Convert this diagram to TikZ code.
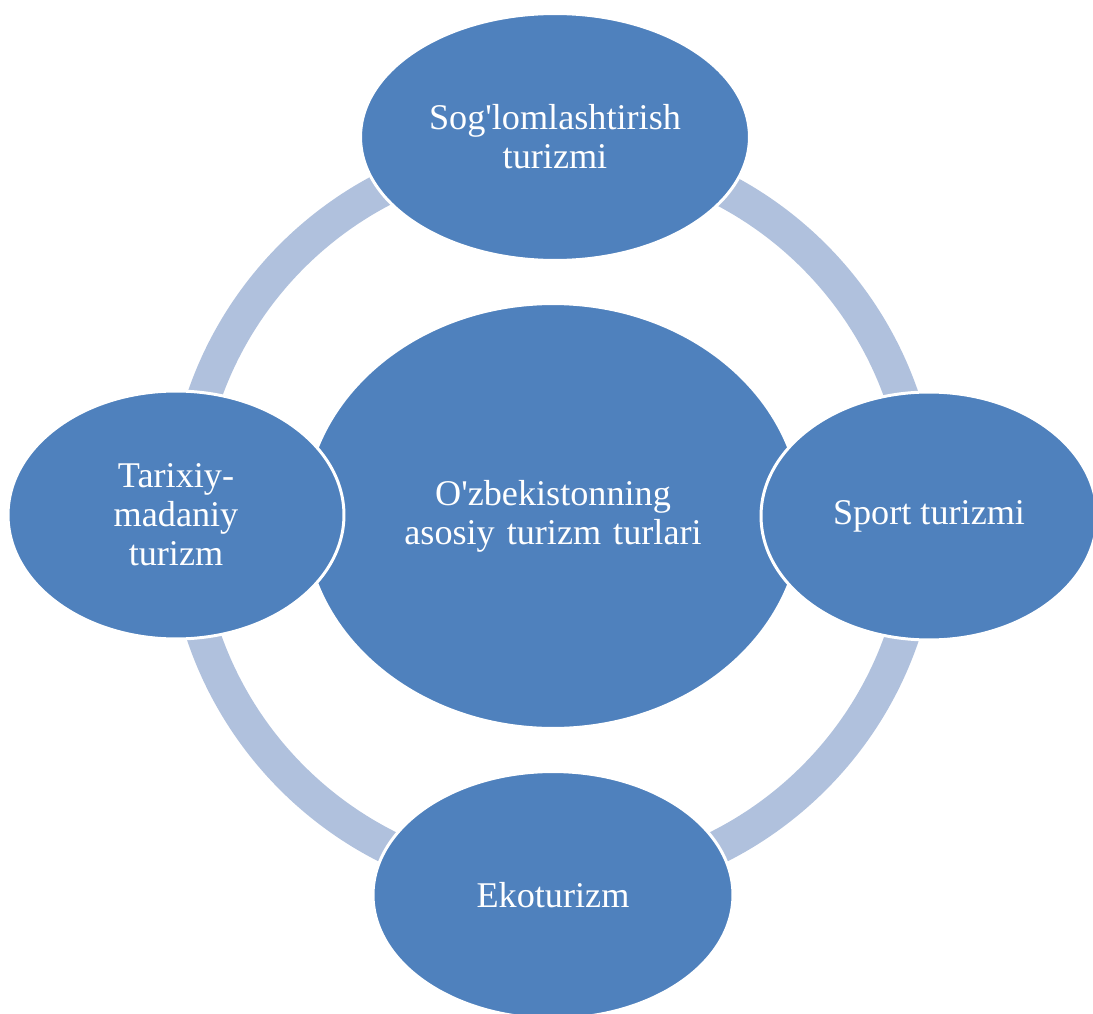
\documentclass[tikz,border=0pt]{standalone}
\usepackage{fontspec}
\setmainfont{Liberation Serif}[Ligatures=TeXOff]
\usetikzlibrary{shapes.geometric}
\definecolor{petal}{RGB}{79,129,189}
\definecolor{hoop}{RGB}{176,193,221}

\begin{document}
\begin{tikzpicture}[x=0.02cm, y=-0.02cm,
    bubble/.style={ellipse, fill=petal, draw=white, line width=1.7pt, inner sep=0pt,
      text=white, align=center, font=\fontsize{20.6}{22.3}\selectfont}]
  \useasboundingbox (0,0) rectangle (1093,1014);
  \coordinate (hub) at (553,517);
  \draw[hoop, line width=0.68cm] (hub) circle (369);

  \node[bubble, minimum width=9.96cm, minimum height=8.5cm] (core) at (553,516)
    {O'zbekistonning\\asosiy\hspace{0.33em}turizm\hspace{0.33em}turlari};
  \node[bubble, minimum width=7.78cm, minimum height=4.94cm] (health) at (555,137)
    {Sog'lomlashtirish\\turizmi};
  \node[bubble, minimum width=6.72cm, minimum height=4.96cm] (sport) at (929,516)
    {Sport turizmi};
  \node[bubble, minimum width=7.2cm, minimum height=4.94cm] (eco) at (553,895)
    {Ekoturizm};
  \node[bubble, minimum width=6.72cm, minimum height=4.96cm] (history) at (176,515)
    {Tarixiy-\\madaniy\\turizm};
\end{tikzpicture}
\end{document}
